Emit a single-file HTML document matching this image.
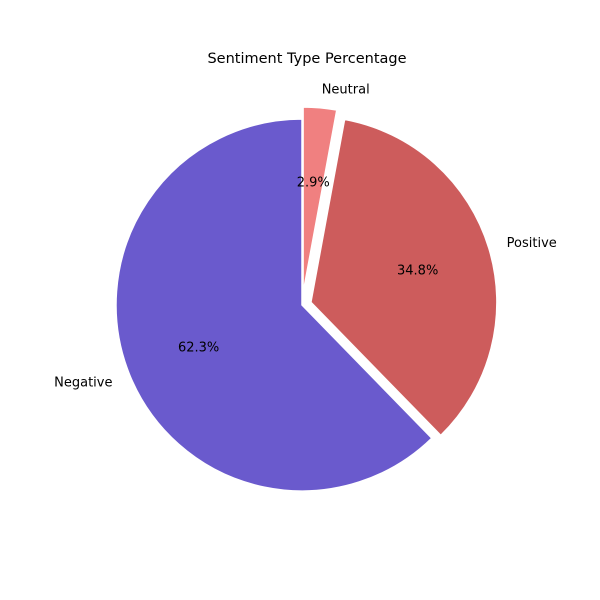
<!DOCTYPE html>
<html><head><meta charset="utf-8"><style>
body{margin:0;background:#fff}
svg{display:block;font-family:"DejaVu Sans","Liberation Sans",sans-serif}
</style></head><body>
<svg id="chart" width="600" height="600">
<text x="307" y="63" font-size="14.5" text-anchor="middle" fill="#000">Sentiment Type Percentage</text>
</svg>
<script>
const categories = ["Negative", "Positive", "Neutral"];
const values = [62.3, 34.8, 2.9];
const explode = [0, 0.05, 0.065];
const colors = ["#6A5ACD", "#CD5C5C", "#F08080"];
const svg = document.getElementById('chart');
const NS = "http://www.w3.org/2000/svg";
const cx = 302, cy = 305, r = 186;
const total = values.reduce((a, b) => a + b, 0);
let start = 90;
values.forEach((v, i) => {
  const sweep = v / total * 360;
  const end = start + sweep;
  const mid = (start + end) / 2 * Math.PI / 180;
  const ox = cx + explode[i] * r * Math.cos(mid);
  const oy = cy - explode[i] * r * Math.sin(mid);
  const a1 = start * Math.PI / 180, a2 = end * Math.PI / 180;
  const x1 = ox + r * Math.cos(a1), y1 = oy - r * Math.sin(a1);
  const x2 = ox + r * Math.cos(a2), y2 = oy - r * Math.sin(a2);
  const large = sweep > 180 ? 1 : 0;
  const p = document.createElementNS(NS, 'path');
  p.setAttribute('d', `M${ox},${oy} L${x1},${y1} A${r},${r} 0 ${large} 0 ${x2},${y2} Z`);
  p.setAttribute('fill', colors[i]);
  p.setAttribute('stroke', '#fff');
  p.setAttribute('stroke-width', '1.5');
  
  
  svg.appendChild(p);
  const lx = ox + 1.1 * r * Math.cos(mid), ly = oy - 1.1 * r * Math.sin(mid);
  const t = document.createElementNS(NS, 'text');
  t.setAttribute('x', lx); t.setAttribute('y', ly + 4.5);
  t.setAttribute('font-size', '13');
  t.setAttribute('text-anchor', Math.cos(mid) >= 0 ? 'start' : 'end');
  t.textContent = categories[i];
  
  
  svg.appendChild(t);
  const px = ox + 0.6 * r * Math.cos(mid), py = oy - 0.6 * r * Math.sin(mid);
  const pt = document.createElementNS(NS, 'text');
  pt.setAttribute('x', px); pt.setAttribute('y', py + 4.5);
  pt.setAttribute('font-size', '13');
  pt.setAttribute('text-anchor', 'middle');
  pt.textContent = v.toFixed(1) + '%';
  
  
  svg.appendChild(pt);
  start = end;
});
</script>
</body></html>
